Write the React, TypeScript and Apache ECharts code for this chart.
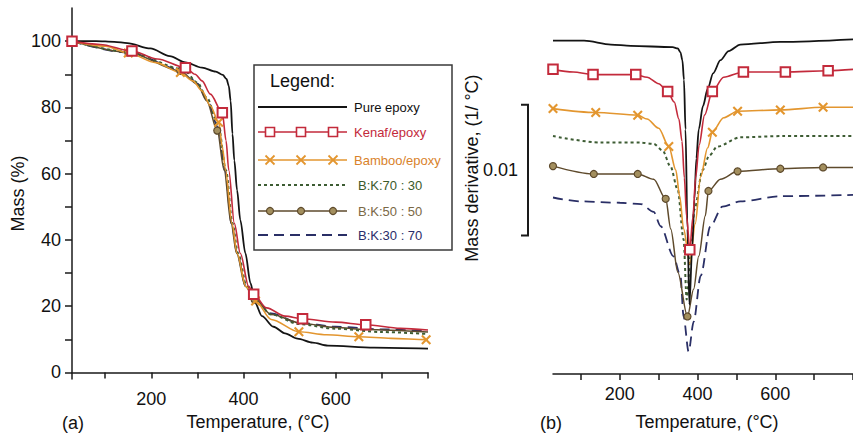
import React, { useEffect, useRef } from "react";
import * as echarts from "echarts";

const FONT = "Liberation Sans, Arial, Helvetica, sans-serif";

const SERIES_NAMES = ["Pure epoxy", "Kenaf/epoxy", "Bamboo/epoxy", "B:K:70 : 30", "B:K:50 : 50", "B:K:30 : 70"];

// axis ticks / labels
const X_TICKS = [100, 200, 300, 400, 500, 600, 700, 800];
const X_LABELS = [200, 400, 600];
const Y_TICKS_A = [0, 10, 20, 30, 40, 50, 60, 70, 80, 90, 100];
const Y_LABELS_A = [0, 20, 40, 60, 80, 100];

// (a) TGA: temperature (°C), mass (%)
const TGA_PURE = [[28, 100], [80, 100], [120, 99.8], [148, 99.4], [198, 97.8], [240, 95.5], [274, 93.6], [310, 92], [340, 90.8], [355, 89.8], [363, 88.6], [368, 86.5], [372, 82], [376, 72], [380, 64], [386, 55], [393, 46], [404, 36], [415, 27], [425, 21], [440, 17], [465, 13.8], [490, 11.8], [517, 10.2], [550, 9], [583, 8.1], [683, 7.5], [800, 7.2]];
const TGA_KENAF = [[28, 100], [89, 99], [158, 97], [213, 94.6], [274, 92], [295, 90], [310, 88], [328, 84], [354, 78.4], [362, 70], [368, 61], [380, 45], [393, 36], [411, 26], [422, 23.6], [450, 19.5], [490, 17], [528, 16.2], [600, 15.2], [665, 14.4], [740, 13.3], [800, 12.8]];
const TGA_KENAF_MARKS = [28, 158, 274, 354, 422, 528, 665];
const TGA_BAMBOO = [[28, 100], [100, 98.5], [150, 96.4], [210, 93.5], [263, 90.5], [290, 88], [310, 85], [328, 80.5], [346, 75.5], [354, 68], [361, 61], [375, 45], [386, 36], [405, 26], [426, 21.6], [460, 16], [520, 12.3], [580, 11.4], [650, 10.8], [720, 10.3], [796, 9.9], [800, 9.9]];
const TGA_BAMBOO_MARKS = [28, 150, 263, 346, 426, 520, 650, 796];
const TGA_BK7030 = [[28, 100], [150, 96.8], [270, 91.5], [300, 87.5], [320, 83], [345, 75], [362, 61], [376, 45], [388, 36], [407, 26], [425, 22], [460, 17.5], [520, 14.6], [600, 13.2], [700, 12.2], [800, 11.6]];
const TGA_BK5050 = [[28, 100], [150, 96.6], [263, 91], [300, 87], [320, 82], [343, 73], [358, 61], [373, 45], [385, 36], [404, 26], [424, 22], [460, 17.5], [528, 14.8], [600, 13.6], [665, 13], [800, 12.2]];
const TGA_BK5050_MARKS = [28, 150, 263, 343, 424];
const TGA_BK3070 = [[28, 100], [150, 96.5], [270, 91.2], [300, 87.2], [320, 82.5], [345, 74], [360, 61], [374, 45], [386, 36], [405, 26], [425, 22], [460, 17.8], [520, 15], [600, 13.8], [700, 13], [800, 12.5]];

// (b) DTG, offset-stacked: temperature (°C), mass derivative (x 1e-3 1/°C, shifted)
const DTG_PURE = [[28, 25.5], [108, 25.5], [177, 25.2], [228, 25.1], [336, 25.0], [349, 24.9], [356, 24.6], [361, 24.0], [365, 22.5], [369, 18.7], [374, 11.1], [379, 5.3], [386, 9.5], [392, 13.4], [397, 16.5], [403, 18.7], [414, 20.5], [426, 21.8], [440, 23.0], [459, 24.0], [480, 24.7], [510, 25.2], [613, 25.4], [800, 25.6]];
const DTG_KENAF = [[28, 23.3], [80, 23.1], [131, 22.9], [241, 22.9], [270, 22.7], [300, 22.2], [323, 21.6], [340, 20.8], [352, 19.5], [360, 17.8], [366, 15], [372, 12], [380, 9.5], [388, 12], [395, 15], [404, 17.5], [418, 19.8], [438, 21.6], [467, 22.7], [518, 23.1], [626, 23.1], [736, 23.2], [800, 23.3]];
const DTG_KENAF_MARKS = [28, 131, 241, 323, 380, 438, 518, 626, 736];
const DTG_BAMBOO = [[28, 20.3], [138, 20.0], [246, 19.8], [270, 19.5], [300, 18.8], [326, 17.4], [344, 15.6], [354, 13.6], [364, 11.1], [380, 8.4], [394, 11.5], [408, 15.1], [426, 17.3], [438, 18.5], [467, 19.6], [503, 20.1], [613, 20.2], [723, 20.4], [800, 20.4]];
const DTG_BAMBOO_MARKS = [28, 138, 246, 326, 438, 503, 613, 723];
const DTG_BK7030 = [[28, 18.2], [151, 17.7], [254, 17.7], [287, 17.6], [310, 17.1], [330, 15.9], [349, 14.1], [364, 10.3], [372, 5.7], [382, 9], [392, 12.6], [413, 15.6], [430, 16.7], [451, 17.4], [510, 18.1], [621, 18.2], [800, 18.2]];
const DTG_BK5050 = [[28, 15.9], [133, 15.3], [246, 15.3], [287, 14.9], [318, 13.4], [331, 11.1], [349, 7.8], [374, 4.4], [390, 6.5], [403, 9.0], [420, 12.1], [428, 14.0], [459, 14.9], [503, 15.5], [613, 15.7], [723, 15.8], [800, 15.8]];
const DTG_BK5050_MARKS = [28, 133, 246, 318, 374, 428, 503, 613, 723];
const DTG_BK3070 = [[28, 13.5], [100, 13.2], [200, 13.1], [254, 13.0], [287, 12.4], [305, 11.3], [338, 9.0], [356, 7.5], [364, 4.4], [377, 1.7], [390, 4.0], [408, 7.5], [433, 11.3], [464, 12.8], [510, 13.2], [613, 13.6], [800, 13.7]];

// scale bar for (b): from, to (x 1e-3 1/°C) => 0.01
const SCALE_BAR = [10.6, 20.6];
const SCALE_LABEL = "0.01";

const X_SYMBOL = "path://M0,1.5L1.5,0L5,3.5L8.5,0L10,1.5L6.5,5L10,8.5L8.5,10L5,6.5L1.5,10L0,8.5L3.5,5Z";

const STYLES = [
  { color: "#141414", type: "solid", width: 1.8, symbol: "none", size: 0, fill: "" },
  { color: "#c32a3b", type: "solid", width: 1.6, symbol: "emptyRect", size: 9.5, fill: "" },
  { color: "#e3962f", type: "solid", width: 1.6, symbol: X_SYMBOL, size: 10, fill: "" },
  { color: "#3d5c33", type: [3, 3], width: 2, symbol: "none", size: 0, fill: "" },
  { color: "#5e4a2c", type: "solid", width: 1.5, symbol: "circle", size: 7, fill: "#a38f5e" },
  { color: "#2a2f66", type: [10, 6], width: 1.8, symbol: "none", size: 0, fill: "" },
];
const TEXT_COLORS = ["#111111", "#c32a3b", "#d9822b", "#3b5a2a", "#7a6845", "#2a2d6a"];

function items(pts: number[][], marks: number[] | null, st: any) {
  return pts.map(([x, y]) =>
    marks && marks.includes(x)
      ? { value: [x, y], symbol: st.symbol, symbolSize: st.size }
      : { value: [x, y] }
  );
}

function mkSeries(i: number, pts: number[][], marks: number[] | null, grid: number) {
  const st = STYLES[i];
  return {
    name: SERIES_NAMES[i],
    type: "line",
    xAxisIndex: grid,
    yAxisIndex: grid,
    data: items(pts, marks, st),
    symbol: "none",
    showSymbol: true,
    clip: false,
    smooth: 0.3,
    smoothMonotone: "x",
    lineStyle: { color: st.color, width: st.width, type: st.type },
    itemStyle: st.symbol === "circle"
      ? { color: st.fill, borderColor: st.color, borderWidth: 1.2 }
      : st.symbol === "emptyRect"
        ? { color: st.color, borderWidth: 1.6 }
        : { color: st.color, borderWidth: 0 },
    z: i === 1 ? 4 : 3,
  };
}

const LEG_Y = [107, 132, 160, 185, 211, 235];
const LEG_MARK_X = [270, 301, 333];

function legendGraphics() {
  const g: any[] = [];
  g.push({ type: "rect", z: 50, shape: { x: 254, y: 65, width: 198, height: 185 }, style: { fill: "#fff", stroke: "#3a3a3a", lineWidth: 1.5 } });
  g.push({ type: "text", z: 51, x: 270, y: 81, style: { text: "Legend:", font: `18px ${FONT}`, fill: "#111", verticalAlign: "middle" } });
  SERIES_NAMES.forEach((name, i) => {
    const st = STYLES[i];
    const y = LEG_Y[i];
    g.push({ type: "line", z: 51, shape: { x1: 258, y1: y, x2: 347, y2: y }, style: { stroke: st.color, lineWidth: st.width, lineDash: Array.isArray(st.type) ? st.type : null } });
    if (st.symbol !== "none") {
      LEG_MARK_X.forEach((mx) => {
        if (st.symbol === "emptyRect") {
          g.push({ type: "rect", z: 52, shape: { x: mx - 4.5, y: y - 4.5, width: 9, height: 9 }, style: { fill: "#fff", stroke: st.color, lineWidth: 1.6 } });
        } else if (st.symbol === "circle") {
          g.push({ type: "circle", z: 52, shape: { cx: mx, cy: y, r: 3.5 }, style: { fill: st.fill, stroke: st.color, lineWidth: 1.2 } });
        } else {
          g.push({ type: "line", z: 52, shape: { x1: mx - 4.5, y1: y - 4.5, x2: mx + 4.5, y2: y + 4.5 }, style: { stroke: st.color, lineWidth: 1.8 } });
          g.push({ type: "line", z: 52, shape: { x1: mx - 4.5, y1: y + 4.5, x2: mx + 4.5, y2: y - 4.5 }, style: { stroke: st.color, lineWidth: 1.8 } });
        }
      });
    }
    g.push({ type: "text", z: 51, x: i < 3 ? 354 : 358, y, style: { text: name, font: `13px ${FONT}`, fill: TEXT_COLORS[i], verticalAlign: "middle" } });
  });
  g.push({ type: "text", x: 62, y: 423, style: { text: "(a)", font: `18px ${FONT}`, fill: "#111", verticalAlign: "middle" } });
  g.push({ type: "text", x: 540, y: 423, style: { text: "(b)", font: `18px ${FONT}`, fill: "#111", verticalAlign: "middle" } });
  g.push({ type: "text", x: 472, y: 168, rotation: Math.PI / 2, style: { text: "Mass derivative, (1/ °C)", font: `18px ${FONT}`, fill: "#111", align: "center", verticalAlign: "middle" } });
  return g;
}

function xAxisCfg(grid: number, min: number, nameGap: number, pad: number) {
  return {
    type: "value",
    gridIndex: grid,
    min,
    max: 800,
    axisLine: { lineStyle: { color: "#1a1a1a", width: 1.5 } },
    axisTick: { customValues: X_TICKS, length: 6, lineStyle: { color: "#1a1a1a", width: 1.5 } },
    axisLabel: { customValues: X_LABELS, fontSize: 18, color: "#111", margin: 11, fontFamily: FONT },
    splitLine: { show: false },
    name: "Temperature, (°C)",
    nameLocation: "middle",
    nameGap,
    nameTextStyle: { fontSize: 18, color: "#111", fontFamily: FONT, padding: [0, 0, 0, pad] },
  };
}

export default function App() {
  const ref = useRef<HTMLDivElement>(null);
  useEffect(() => {
    if (!ref.current) return;
    const chart = echarts.init(ref.current, null, { renderer: "svg" });
    const option: any = {
      animation: false,
      backgroundColor: "#fff",
      textStyle: { fontFamily: FONT },
      grid: [
        { left: 72, top: 8, width: 356, height: 373 },
        { left: 553, top: 21, width: 300, height: 354 },
      ],
      xAxis: [xAxisCfg(0, 28, 33, 16), xAxisCfg(1, 28, 39, 8)],
      yAxis: [
        {
          type: "value",
          gridIndex: 0,
          min: -2,
          max: 110,
          axisLine: { show: true, lineStyle: { color: "#1a1a1a", width: 1.5 } },
          axisTick: { show: true, customValues: Y_TICKS_A, length: 7, lineStyle: { color: "#1a1a1a", width: 1.5 } },
          axisLabel: { customValues: Y_LABELS_A, fontSize: 18, color: "#111", margin: 11, fontFamily: FONT },
          splitLine: { show: false },
          name: "Mass (%)",
          nameLocation: "middle",
          nameGap: 45,
          nameTextStyle: { fontSize: 18, color: "#111", fontFamily: FONT },
        },
        {
          type: "value",
          gridIndex: 1,
          min: 0,
          max: 27,
          axisLine: { show: false },
          axisTick: { show: false },
          axisLabel: { show: false },
          splitLine: { show: false },
        },
      ],
      series: [
        mkSeries(5, TGA_BK3070, null, 0),
        mkSeries(4, TGA_BK5050, TGA_BK5050_MARKS, 0),
        mkSeries(3, TGA_BK7030, null, 0),
        mkSeries(2, TGA_BAMBOO, TGA_BAMBOO_MARKS, 0),
        mkSeries(0, TGA_PURE, null, 0),
        mkSeries(1, TGA_KENAF, TGA_KENAF_MARKS, 0),
        mkSeries(5, DTG_BK3070, null, 1),
        mkSeries(4, DTG_BK5050, DTG_BK5050_MARKS, 1),
        mkSeries(3, DTG_BK7030, null, 1),
        mkSeries(2, DTG_BAMBOO, DTG_BAMBOO_MARKS, 1),
        mkSeries(0, DTG_PURE, null, 1),
        mkSeries(1, DTG_KENAF, DTG_KENAF_MARKS, 1),
      ],
      graphic: legendGraphics(),
    };
    chart.setOption(option);

    // scale bar in (b), placed through the y axis scale
    const xb = (chart.convertToPixel({ xAxisIndex: 1 }, 28) as number) - 25;
    const yTop = chart.convertToPixel({ yAxisIndex: 1 }, SCALE_BAR[1]) as number;
    const yBot = chart.convertToPixel({ yAxisIndex: 1 }, SCALE_BAR[0]) as number;
    const g = legendGraphics();
    g.push({ type: "polyline", shape: { points: [[xb - 7, yTop], [xb, yTop], [xb, yBot], [xb - 7, yBot]] }, style: { stroke: "#1a1a1a", lineWidth: 2, fill: null } });
    g.push({ type: "text", x: xb - 10, y: (yTop + yBot) / 2, style: { text: SCALE_LABEL, font: `18px ${FONT}`, fill: "#111", align: "right", verticalAlign: "middle" } });
    chart.setOption({ graphic: g });

    return () => chart.dispose();
  }, []);
  return <div ref={ref} style={{ position: "absolute", left: 0, top: 0, width: 853, height: 436 }} />;
}
